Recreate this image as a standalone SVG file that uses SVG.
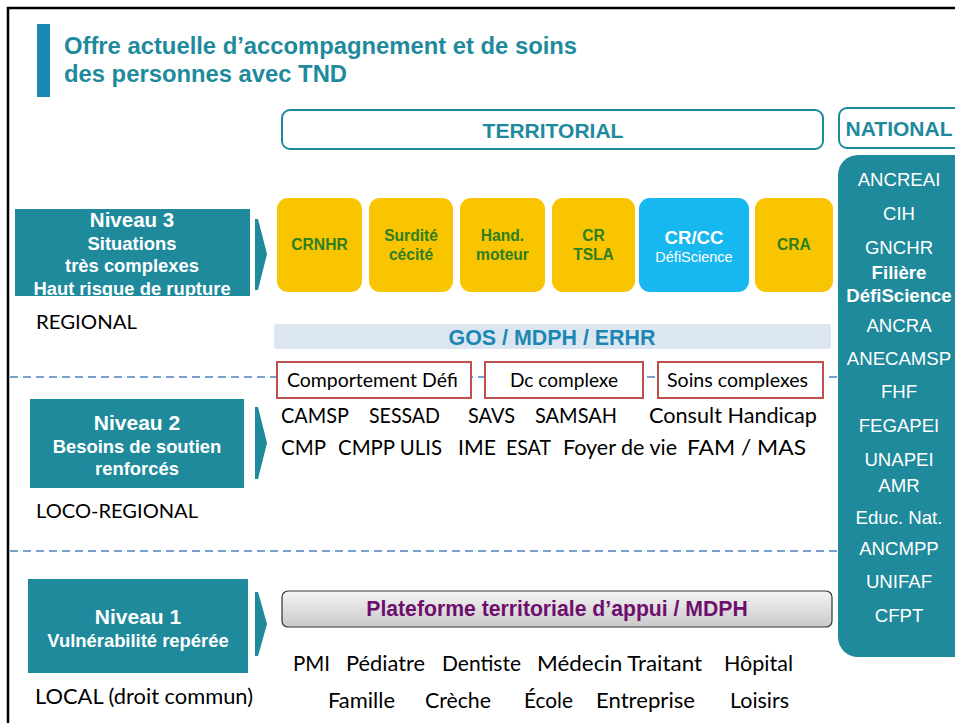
<svg xmlns="http://www.w3.org/2000/svg" width="955" height="723" viewBox="0 0 955 723">
<defs>
<linearGradient id="grayGrad" x1="0" y1="0" x2="0" y2="1">
<stop offset="0" stop-color="#f4f4f4"/>
<stop offset="1" stop-color="#c9c9c9"/>
</linearGradient>
<style>
.sans{font-family:"Liberation Sans",Arial,sans-serif}
.cal{font-family:Lato,"Liberation Sans",sans-serif;fill:#000}
.lvl{fill:#1e8a9c}
.lvlt{font-family:"Liberation Sans",Arial,sans-serif;font-weight:bold;fill:#fff;text-anchor:middle}
.chev{fill:#1e8a9c}
.yel{fill:#f9c400}
.yelt{font-family:"Liberation Sans",Arial,sans-serif;font-weight:bold;font-size:15.6px;fill:#2d7f1f;text-anchor:middle}
.nat{font-family:"Liberation Sans",Arial,sans-serif;font-size:18.6px;fill:#fff;text-anchor:middle}
.redbox{fill:#fff;stroke:#c0504d;stroke-width:2}
.dash{stroke:#4f81bd;stroke-width:1.5;stroke-dasharray:8 5;fill:none}
.row{font-family:Lato,"Liberation Sans",sans-serif;font-size:21px;fill:#000}
</style>
</defs>
<rect width="955" height="723" fill="#fff"/>
<!-- slide border -->
<path d="M8 723 V8 H955" fill="none" stroke="#000" stroke-width="2.5"/>

<!-- title -->
<g id="title">
<rect x="37" y="24" width="13" height="73" fill="#1a87b5"/>
<text class="sans" x="64" y="54" font-size="23.8" font-weight="bold" fill="#1e8a9c">Offre actuelle d’accompagnement et de soins</text>
<text class="sans" x="64" y="82" font-size="23.8" font-weight="bold" fill="#1e8a9c">des personnes avec TND</text>
</g>

<!-- dashed separators -->
<g id="connectors">
<line class="dash" x1="10" y1="377" x2="840" y2="377"/>
<line class="dash" x1="10" y1="551" x2="840" y2="551"/>
</g>

<g id="territorial">
<rect x="282" y="110" width="541" height="39" rx="8" fill="#fff" stroke="#1e8a9c" stroke-width="2"/>
<text class="sans" x="553" y="138" font-size="21" font-weight="bold" fill="#1e8a9c" text-anchor="middle">TERRITORIAL</text>
</g>

<g id="national-header">
<rect x="839" y="108" width="130" height="40" rx="8" fill="#fff" stroke="#1e8a9c" stroke-width="2"/>
<text class="sans" x="899" y="136" font-size="21" font-weight="bold" fill="#1e8a9c" text-anchor="middle">NATIONAL</text>
</g>

<g id="national-list">
<rect x="838" y="155" width="140" height="502" rx="20" fill="#1e8a9c"/>
<text class="nat" x="899" y="186">ANCREAI</text>
<text class="nat" x="899" y="220">CIH</text>
<text class="nat" x="899" y="254">GNCHR</text>
<text class="nat" x="899" y="279" font-weight="bold" font-size="18.4">Filière</text>
<text class="nat" x="899" y="302" font-weight="bold" font-size="18.4">DéfiScience</text>
<text class="nat" x="899" y="332">ANCRA</text>
<text class="nat" x="899" y="365">ANECAMSP</text>
<text class="nat" x="899" y="398">FHF</text>
<text class="nat" x="899" y="432">FEGAPEI</text>
<text class="nat" x="899" y="466">UNAPEI</text>
<text class="nat" x="899" y="492">AMR</text>
<text class="nat" x="899" y="524">Educ. Nat.</text>
<text class="nat" x="899" y="555">ANCMPP</text>
<text class="nat" x="899" y="588">UNIFAF</text>
<text class="nat" x="899" y="622">CFPT</text>
</g>

<!-- Niveau 3 -->
<g id="niveau3">
<rect class="lvl" x="15" y="209" width="235" height="87"/>
<text class="lvlt" x="132" y="227" font-size="20.5">Niveau 3</text>
<text class="lvlt" x="132" y="250" font-size="18.4">Situations</text>
<text class="lvlt" x="132" y="272" font-size="18.4">très complexes</text>
<text class="lvlt" x="132" y="295" font-size="18.4">Haut risque de rupture</text>
<polygon class="chev" points="255,219 258,219 267,254 258,290 255,290"/>
<text class="cal" x="36" y="329" font-size="20" textLength="101" lengthAdjust="spacingAndGlyphs">REGIONAL</text>
</g>

<g id="crnhr"><rect class="yel" x="277" y="198" width="85" height="94" rx="11"/><text class="yelt" x="319.5" y="250">CRNHR</text></g>
<g id="surdite"><rect class="yel" x="369" y="198" width="84" height="94" rx="11"/><text class="yelt" x="411" y="241">Surdité</text><text class="yelt" x="411" y="260">cécité</text></g>
<g id="hand"><rect class="yel" x="460" y="198" width="85" height="94" rx="11"/><text class="yelt" x="502.5" y="241">Hand.</text><text class="yelt" x="502.5" y="260">moteur</text></g>
<g id="crtsla"><rect class="yel" x="552" y="198" width="83" height="94" rx="11"/><text class="yelt" x="593.5" y="241">CR</text><text class="yelt" x="593.5" y="260">TSLA</text></g>
<g id="crcc"><rect x="639" y="198" width="110" height="94" rx="11" fill="#17b7ef"/><text class="sans" x="694" y="244" font-size="18.6" font-weight="bold" fill="#fff" text-anchor="middle">CR/CC</text><text class="sans" x="694" y="262" font-size="14.5" fill="#fff" text-anchor="middle">DéfiScience</text></g>
<g id="cra"><rect class="yel" x="755" y="198" width="78" height="94" rx="11"/><text class="yelt" x="794" y="250">CRA</text></g>

<g id="gos">
<rect x="274" y="324" width="557" height="25" rx="3" fill="#dce6f1"/>
<text class="sans" x="552" y="345" font-size="21.4" font-weight="bold" fill="#1a87b5" text-anchor="middle">GOS / MDPH / ERHR</text>
</g>

<g id="comportement"><rect class="redbox" x="277" y="362" width="194" height="36"/><text class="cal" x="372.5" y="387" font-size="19" textLength="171" lengthAdjust="spacingAndGlyphs" text-anchor="middle">Comportement Défi</text></g>
<g id="dc"><rect class="redbox" x="485" y="362" width="158" height="36"/><text class="cal" x="564" y="387" font-size="19" textLength="108" lengthAdjust="spacingAndGlyphs" text-anchor="middle">Dc complexe</text></g>
<g id="soins"><rect class="redbox" x="658" y="362" width="165" height="36"/><text class="cal" x="737.5" y="387" font-size="19" textLength="141" lengthAdjust="spacingAndGlyphs" text-anchor="middle">Soins complexes</text></g>

<!-- Niveau 2 -->
<g id="niveau2">
<rect class="lvl" x="30" y="399" width="214" height="89"/>
<text class="lvlt" x="137" y="430" font-size="21">Niveau 2</text>
<text class="lvlt" x="137" y="453" font-size="18.4">Besoins de soutien</text>
<text class="lvlt" x="137" y="475" font-size="18.4">renforcés</text>
<polygon class="chev" points="255,407 258,407 267,443 258,479 255,479"/>
<text class="cal" x="36" y="518" font-size="20" textLength="162" lengthAdjust="spacingAndGlyphs">LOCO-REGIONAL</text>
</g>

<g id="row2">
<text class="row" x="281" y="423" textLength="68" lengthAdjust="spacingAndGlyphs">CAMSP</text>
<text class="row" x="369" y="423" textLength="71" lengthAdjust="spacingAndGlyphs">SESSAD</text>
<text class="row" x="468" y="423" textLength="47" lengthAdjust="spacingAndGlyphs">SAVS</text>
<text class="row" x="535" y="423" textLength="82" lengthAdjust="spacingAndGlyphs">SAMSAH</text>
<text class="row" x="649" y="423" textLength="168" lengthAdjust="spacingAndGlyphs">Consult Handicap</text>
<text class="row" x="281" y="455" textLength="45" lengthAdjust="spacingAndGlyphs">CMP</text>
<text class="row" x="338" y="455" textLength="104" lengthAdjust="spacingAndGlyphs">CMPP ULIS</text>
<text class="row" x="458" y="455" textLength="38" lengthAdjust="spacingAndGlyphs">IME</text>
<text class="row" x="506" y="455" textLength="45" lengthAdjust="spacingAndGlyphs">ESAT</text>
<text class="row" x="563" y="455" textLength="114" lengthAdjust="spacingAndGlyphs">Foyer de vie</text>
<text class="row" x="687" y="455" textLength="119" lengthAdjust="spacingAndGlyphs">FAM / MAS</text>
</g>

<!-- Niveau 1 -->
<g id="niveau1">
<rect class="lvl" x="28" y="579" width="220" height="94"/>
<text class="lvlt" x="138" y="624" font-size="21">Niveau 1</text>
<text class="lvlt" x="138" y="647" font-size="18.4">Vulnérabilité repérée</text>
<polygon class="chev" points="255,592 258,592 267,624 258,656 255,656"/>
<text class="cal" x="35" y="704" font-size="21" textLength="218" lengthAdjust="spacingAndGlyphs">LOCAL (droit commun)</text>
</g>

<g id="plateforme">
<rect x="282" y="591" width="550" height="36" rx="6" fill="url(#grayGrad)" stroke="#333" stroke-width="1.2"/>
<text class="sans" x="557" y="616" font-size="21.2" font-weight="bold" fill="#6e0f6e" text-anchor="middle">Plateforme territoriale d’appui / MDPH</text>
</g>

<g id="row1">
<text class="row" x="293" y="671" textLength="37" lengthAdjust="spacingAndGlyphs">PMI</text>
<text class="row" x="346" y="671" textLength="79" lengthAdjust="spacingAndGlyphs">Pédiatre</text>
<text class="row" x="442" y="671" textLength="79" lengthAdjust="spacingAndGlyphs">Dentiste</text>
<text class="row" x="537" y="671" textLength="165" lengthAdjust="spacingAndGlyphs">Médecin Traitant</text>
<text class="row" x="724" y="671" textLength="69" lengthAdjust="spacingAndGlyphs">Hôpital</text>
<text class="row" x="328" y="708" textLength="67" lengthAdjust="spacingAndGlyphs">Famille</text>
<text class="row" x="425" y="708" textLength="66" lengthAdjust="spacingAndGlyphs">Crèche</text>
<text class="row" x="524" y="708" textLength="49" lengthAdjust="spacingAndGlyphs">École</text>
<text class="row" x="596" y="708" textLength="99" lengthAdjust="spacingAndGlyphs">Entreprise</text>
<text class="row" x="730" y="708" textLength="59" lengthAdjust="spacingAndGlyphs">Loisirs</text>
</g>
</svg>
